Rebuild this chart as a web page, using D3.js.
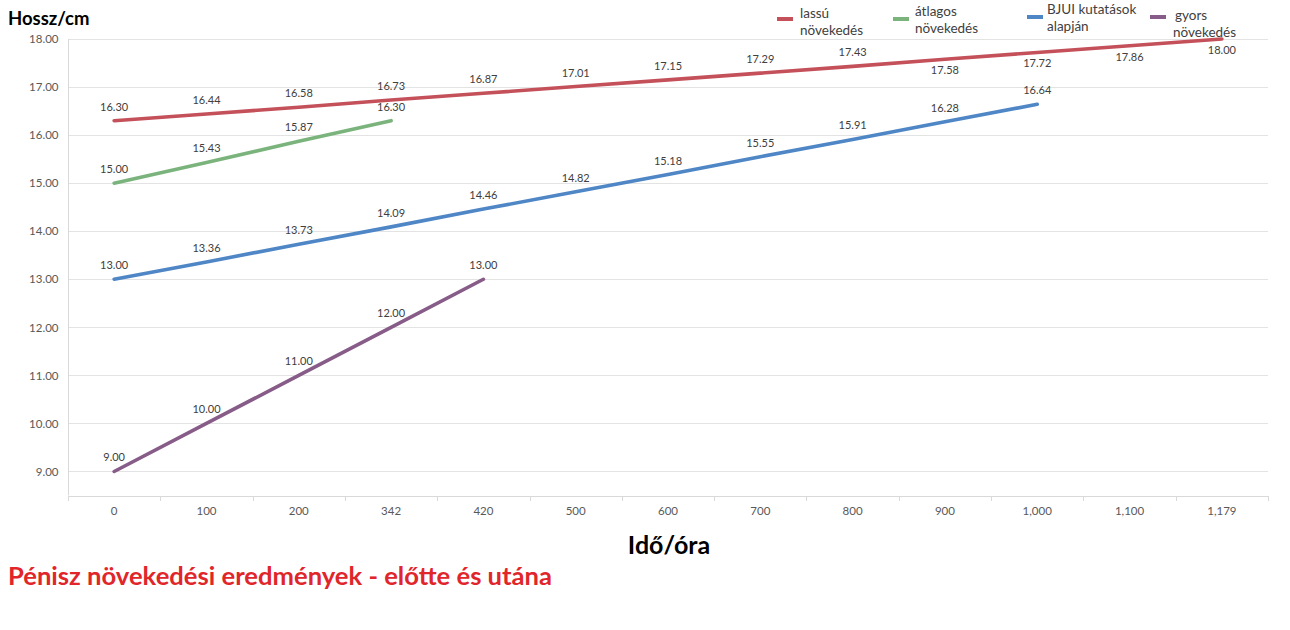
<!DOCTYPE html>
<html><head><meta charset="utf-8">
<script src="https://cdn.jsdelivr.net/npm/d3@7"></script>
<style>body{margin:0;background:#fff}svg{display:block}</style></head>
<body>
<svg id="c" width="1290" height="630"></svg>
<script>
const categories = ["0","100","200","342","420","500","600","700","800","900","1,000","1,100","1,179"];
const lassu   = [16.30,16.44,16.58,16.73,16.87,17.01,17.15,17.29,17.43,17.58,17.72,17.86,18.00];
const atlagos = [15.00,15.43,15.87,16.30];
const bjui    = [13.00,13.36,13.73,14.09,14.46,14.82,15.18,15.55,15.91,16.28,16.64];
const gyors   = [9.00,10.00,11.00,12.00,13.00];
const yTicks  = [9,10,11,12,13,14,15,16,17,18];
const seriesNames = [["lassú","növekedés"],["átlagos","növekedés"],["BJUI kutatások","alapján"],["gyors","növekedés"]];
const colors = ["#c4505a","#7ab47c","#4f86c6","#875c88"];
const yTitle = "Hossz/cm", xTitle = "Idő/óra", chartTitle = "Pénisz növekedési eredmények - előtte és utána";

const series = [lassu, atlagos, bjui, gyors];
const svg = d3.select("#c");
const L = 68, R = 1268, T = 39, B = 495.5;
const font = "Lato, 'Open Sans', sans-serif";

const x = d3.scaleBand().domain(categories).range([L, R]).padding(0);
const y = d3.scaleLinear().domain([8.5, 18]).range([B, T]);
const cx = c => x(c) + x.bandwidth() / 2;

// gridlines
svg.append("g").selectAll("line").data(yTicks).join("line")
  .attr("x1", L).attr("x2", R).attr("y1", d => Math.round(y(d)) + 0.5).attr("y2", d => Math.round(y(d)) + 0.5)
  .attr("stroke", "#e3e3e3").attr("stroke-width", 1);

// y axis
const yAxis = svg.append("g").attr("transform", `translate(${L + 0.5},0)`)
  .call(d3.axisLeft(y).tickValues(yTicks).tickFormat(d3.format(".2f")).tickSize(0).tickPadding(10));
yAxis.select(".domain").attr("stroke", "#d9d9d9").attr("d", `M0,${T}V${B}`);
yAxis.selectAll("text").attr("font-family", font).attr("font-size", 11.5).attr("fill", "#595959");

// x axis
const xAxis = svg.append("g").attr("transform", `translate(0,${Math.round(B) + 0.5})`)
  .call(d3.axisBottom(x).tickSize(0).tickPadding(10));
xAxis.select(".domain").attr("stroke", "#d9d9d9").attr("d", `M${L},0H${R}`);
xAxis.selectAll("text").attr("font-family", font).attr("font-size", 11.5).attr("fill", "#595959");
svg.append("g").selectAll("line").data(categories.map(c => x(c)).concat([R])).join("line")
  .attr("x1", d => Math.round(d) + 0.5).attr("x2", d => Math.round(d) + 0.5)
  .attr("y1", Math.round(B)).attr("y2", Math.round(B) + 5).attr("stroke", "#d9d9d9");

// lines
const line = d3.line().x((d, i) => cx(categories[i])).y(d => y(d));
series.forEach((s, k) => {
  svg.append("path").datum(s).attr("d", line).attr("fill", "none")
    .attr("stroke", colors[k]).attr("stroke-width", 3.6).attr("stroke-linecap", "round");
});

// data labels
series.forEach((s, k) => {
  svg.append("g").selectAll("text").data(s).join("text")
    .attr("x", (d, i) => cx(categories[i]))
    .attr("y", (d, i) => (k === 0 && i >= 9) ? y(d) + 15 : y(d) - 10)
    .attr("text-anchor", "middle")
    .attr("font-family", font).attr("font-size", 11).attr("fill", "#404040")
    .text(d => d3.format(".2f")(d));
});

// legend
const legX = [777, 893, 1027, 1150];
const legTextX = [800, 915, 1047, 1175];
const legY = [19, 19, 17, 17];
const legTextY = [18, 16, 14, 20];
seriesNames.forEach((n, k) => {
  svg.append("line").attr("x1", legX[k]).attr("x2", legX[k] + 16).attr("y1", legY[k]).attr("y2", legY[k])
    .attr("stroke", colors[k]).attr("stroke-width", 4);
  const t = svg.append("text").attr("x", legTextX[k]).attr("y", legTextY[k])
    .attr("font-family", font).attr("font-size", 13.5).attr("fill", "#404040");
  n.forEach((ln, j) => t.append("tspan").attr("x", legTextX[k] + (k === 3 && j === 1 ? -2 : 0)).attr("dy", j ? 17 : 0).text(ln));
});

// titles
svg.append("text").attr("x", 8).attr("y", 25).attr("font-family", font).attr("font-weight", "bold")
  .attr("font-size", 18.5).attr("fill", "#000").text(yTitle);
svg.append("text").attr("x", 669).attr("y", 554).attr("text-anchor", "middle").attr("font-family", font)
  .attr("font-weight", "bold").attr("font-size", 25).attr("fill", "#000").text(xTitle);
svg.append("text").attr("x", 8).attr("y", 585).attr("font-family", font).attr("font-weight", "bold")
  .attr("font-size", 24).attr("textLength", 544).attr("lengthAdjust", "spacingAndGlyphs")
  .attr("fill", "#e0262a").text(chartTitle);
</script>
</body></html>
